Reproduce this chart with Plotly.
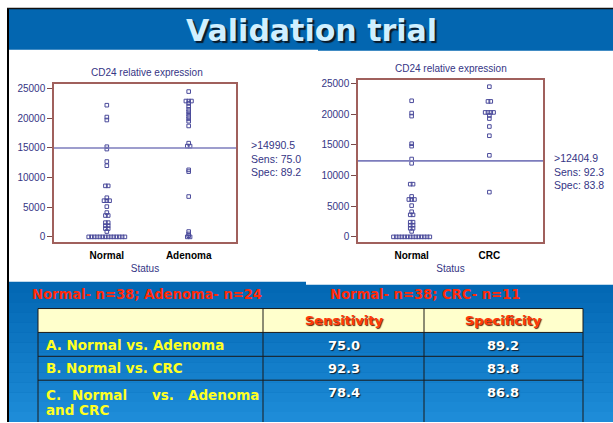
import plotly.graph_objects as go

W, H = 613, 423

# ---------------- data ----------------
normal = [22200, 20200, 19700, 15200, 14800, 12700, 12000, 8600, 8600, 6600,
          6100, 6100, 6100, 5100, 4100, 3600, 3600, 2400, 2400, 1900, 1900,
          1400, 1400, 900, 0, 0, 0, 0, 0, 0, 0, 0, 0, 0, 0, 0, 0, 0]
adenoma = [24500, 22900, 22900, 22900, 22500, 22000, 21500, 21100, 20700, 20300,
           19900, 19500, 18700, 15800, 15300, 15300, 11300, 11000, 6800, 900,
           500, 200, 0, 0]
crc = [24500, 22100, 22100, 20300, 20300, 20300, 20300, 19800, 19300, 18000,
       16500, 13300, 7300]

left_cats = ["Normal", "Adenoma"]
right_cats = ["Normal", "CRC"]
left_cut = 14990.5
right_cut = 12404.9
left_stats = [">14990.5", "Sens: 75.0", "Spec: 89.2"]
right_stats = [">12404.9", "Sens: 92.3", "Spec: 83.8"]
y_ticks = [0, 5000, 10000, 15000, 20000, 25000]
y_tick_text = ["0", "5000", "10000", "15000", "20000", "25000"]

title_text = "Validation trial"
sub_left = "Normal- n=38; Adenoma- n=24"
sub_right = "Normal- n=38; CRC- n=11"
tbl_header = ["", "Sensitivity", "Specificity"]
tbl_rows = ["A. Normal vs. Adenoma", "B. Normal vs. CRC", "C. Normal vs. Adenoma and CRC"]
tbl_sens = ["75.0", "92.3", "78.4"]
tbl_spec = ["89.2", "83.8", "86.8"]

# ---------------- helpers ----------------
def fx(p):
    return p / W

def fy(p):
    return 1 - p / H

def spread(values, step):
    """dot-plot layout: equal values are placed side by side, centred"""
    counts = {}
    for v in values:
        counts[v] = counts.get(v, 0) + 1
    seen = {}
    offs = []
    for v in values:
        j = seen.get(v, 0)
        seen[v] = j + 1
        offs.append((j - (counts[v] - 1) / 2) * step)
    return offs

AX = "#353585"
BOX = "#A0605C"
MK = "#4B4B9B"
FONT = "Liberation Sans, Arial, sans-serif"

fig = go.Figure()

def add_group(vals, cat_idx, step, xa, ya):
    offs = spread(vals, step)
    fig.add_trace(go.Scatter(
        x=[cat_idx + o for o in offs], y=vals, mode="markers",
        marker=dict(symbol="square-open", size=3.6, color=MK, line=dict(width=1, color=MK)),
        xaxis=xa, yaxis=ya, showlegend=False, hoverinfo="y"))

add_group(normal, 0, 0.034, "x", "y")
add_group(adenoma, 1, 0.034, "x", "y")
add_group(normal, 0, 0.036, "x2", "y2")
add_group(crc, 1, 0.036, "x2", "y2")

shapes = []
# slide background
shapes.append(dict(type="rect", xref="paper", yref="paper", x0=fx(8), x1=fx(W), y0=fy(H), y1=fy(8),
                   fillcolor="#0366B0", line=dict(width=0), layer="below"))
# gradient bands in lower part
n = 14
c0 = (3, 104, 180)
c1 = (30, 140, 216)
for i in range(n):
    t = i / (n - 1)
    col = "rgb(%d,%d,%d)" % tuple(int(c0[k] + (c1[k] - c0[k]) * t) for k in range(3))
    ya0 = 283 + i * (H - 283) / n
    ya1 = 283 + (i + 1) * (H - 283) / n
    shapes.append(dict(type="rect", xref="paper", yref="paper", x0=fx(9), x1=fx(W),
                       y0=fy(ya1), y1=fy(ya0), fillcolor=col, line=dict(width=0), layer="below"))
# white chart panels
shapes.append(dict(type="rect", xref="paper", yref="paper", x0=fx(9), x1=fx(318), y0=fy(282), y1=fy(49),
                   fillcolor="white", line=dict(width=0), layer="below"))
shapes.append(dict(type="rect", xref="paper", yref="paper", x0=fx(306), x1=fx(W), y0=fy(285), y1=fy(50),
                   fillcolor="white", line=dict(width=0), layer="below"))
# black border lines
shapes.append(dict(type="line", xref="paper", yref="paper", x0=fx(8), x1=fx(8), y0=0, y1=fy(7),
                   line=dict(color="black", width=2)))
shapes.append(dict(type="line", xref="paper", yref="paper", x0=fx(7), x1=1, y0=fy(7.5), y1=fy(7.5),
                   line=dict(color="#111111", width=1.5)))
# cut-off lines
shapes.append(dict(type="line", xref="x domain", yref="y", x0=0, x1=1, y0=left_cut, y1=left_cut,
                   line=dict(color="#7C7CBC", width=1.6)))
shapes.append(dict(type="line", xref="x2 domain", yref="y2", x0=0, x1=1, y0=right_cut, y1=right_cut,
                   line=dict(color="#7C7CBC", width=1.6)))

# table
tl, tc1, tc2, tr = 38, 263, 424, 583
rows_y = [309, 333, 357, 381, 430]
shapes.append(dict(type="rect", xref="paper", yref="paper", x0=fx(tl), x1=fx(tr), y0=fy(rows_y[1]), y1=fy(rows_y[0]),
                   fillcolor="#FFFFCC", line=dict(width=0)))
for yy in rows_y[:4]:
    shapes.append(dict(type="line", xref="paper", yref="paper", x0=fx(tl), x1=fx(tr), y0=fy(yy), y1=fy(yy),
                       line=dict(color="#1A1A1A", width=1)))
for xx in [tl, tc1, tc2, tr]:
    shapes.append(dict(type="line", xref="paper", yref="paper", x0=fx(xx), x1=fx(xx), y0=0, y1=fy(rows_y[0]),
                       line=dict(color="#1A1A1A", width=1)))

ann = []

def note(text, xp, yp, font, xanchor="center"):
    ann.append(dict(text=text, x=fx(xp), y=fy(yp), xref="paper", yref="paper", xanchor=xanchor,
                    yanchor="middle", showarrow=False, font=font))

note("<b>%s</b>" % title_text, 311, 30,
     dict(family="DejaVu Sans, Verdana", size=30, color="#CFEFFF", shadow="2px 2px 1px #0A1A2A"))
note("CD24 relative expression", 147, 72, dict(family=FONT, size=10, color=AX))
note("CD24 relative expression", 451, 68, dict(family=FONT, size=10, color=AX))
for i, s in enumerate(left_stats):
    note(s, 249, 145 + 13.5 * i, dict(family=FONT, size=10.5, color=AX), "left")
for i, s in enumerate(right_stats):
    note(s, 552, 158 + 13.5 * i, dict(family=FONT, size=10.5, color=AX), "left")

SUBF = dict(family="Liberation Sans Narrow, DejaVu Sans Condensed, Arial Narrow, Liberation Sans, sans-serif",
            size=14.6, color="#FF2A0A")
note("<b>%s</b>" % sub_left, 30, 294, SUBF, "left")
note("<b>%s</b>" % sub_right, 328, 294, SUBF, "left")

TF = "DejaVu Sans, Verdana, sans-serif"
for txt, xc in [(tbl_header[1], (tc1 + tc2) / 2), (tbl_header[2], (tc2 + tr) / 2)]:
    note("<b>%s</b>" % txt, xc, 321, dict(family=TF, size=13, color="#FF3A0A", shadow="1px 1px 1px #5A2000"))
YF = dict(family=TF, size=13.5, color="#FFFF22")
note("<b>%s</b>" % tbl_rows[0], 44, 346, YF, "left")
note("<b>%s</b>" % tbl_rows[1], 44, 369, YF, "left")
# row C: justified text over two lines
words_c = tbl_rows[2].split(" ")
first_line = words_c[:4]
word_x = [44, 70, 150, 186]
for w, xw in zip(first_line, word_x):
    note("<b>%s</b>" % w, xw, 396, YF, "left")
note("<b>%s</b>" % " ".join(words_c[4:]), 44, 411, YF, "left")
NF = dict(family=TF, size=13, color="white", shadow="1px 1px 1px #102030")
for i, yy in enumerate([346, 369, 393]):
    note("<b>%s</b>" % tbl_sens[i], (tc1 + tc2) / 2, yy, NF)
    note("<b>%s</b>" % tbl_spec[i], (tc2 + tr) / 2, yy, NF)

def yaxis(dom, rng, anchor):
    return dict(domain=dom, range=rng, anchor=anchor, tickvals=y_ticks, ticktext=y_tick_text,
                ticks="outside", ticklen=5,
                tickcolor="#7A4A4A", tickwidth=1, showgrid=False, zeroline=False, showline=True, mirror=True,
                linecolor=BOX, linewidth=1.5, tickfont=dict(family=FONT, size=10, color=AX))

def xaxis(dom, rng, anchor, cats):
    return dict(domain=dom, range=rng, anchor=anchor, tickvals=[0, 1],
                ticktext=["<b>%s</b>" % c for c in cats], ticks="", showgrid=False, zeroline=False,
                showline=True, mirror=True, linecolor=BOX, linewidth=1.5, ticklabelstandoff=3,
                tickfont=dict(family=FONT, size=10, color="black"),
                title=dict(text="Status", font=dict(family=FONT, size=10, color=AX), standoff=5))

fig.update_layout(
    width=W, height=H, margin=dict(l=0, r=0, t=0, b=0),
    paper_bgcolor="white", plot_bgcolor="white",
    xaxis=xaxis([fx(54), fx(236)], [-0.645, 1.578], "y", left_cats),
    yaxis=yaxis([fy(242), fy(83)], [-840, 25840], "x"),
    xaxis2=xaxis([fx(358), fx(543)], [-0.69, 1.69], "y2", right_cats),
    yaxis2=yaxis([fy(242), fy(79)], [-810, 25650], "x2"),
    shapes=shapes, annotations=ann, showlegend=False,
)

fig.write_html("out.html", config={"displayModeBar": False},
               post_script="document.body.style.margin='0';")
